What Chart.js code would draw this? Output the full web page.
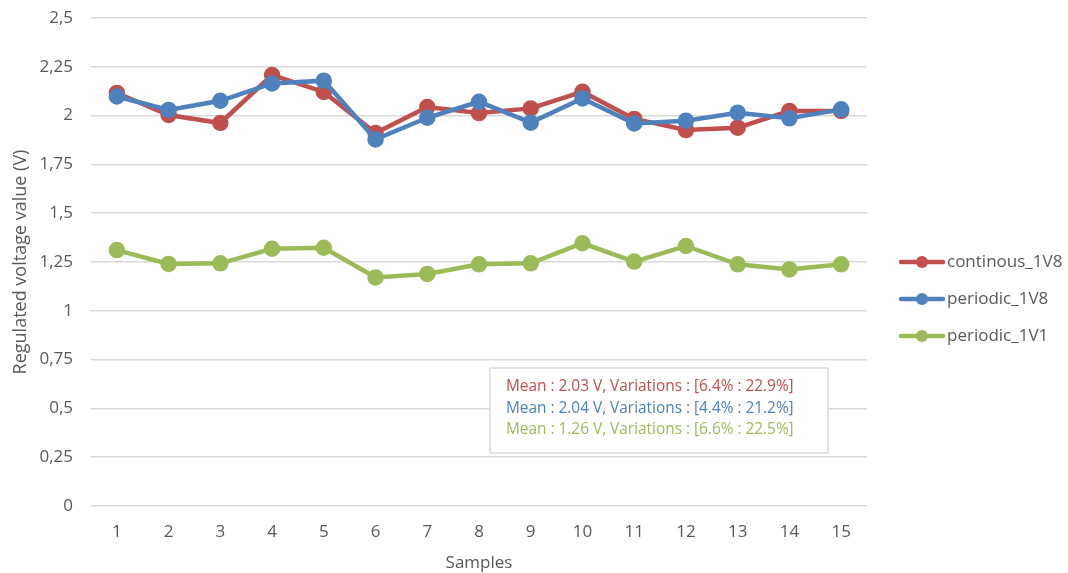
<!DOCTYPE html>
<html>
<head>
<meta charset="utf-8">
<script src="https://cdn.jsdelivr.net/npm/chart.js@4.4.1/dist/chart.umd.min.js"></script>
<style>
  html, body { margin: 0; padding: 0; background: #fff; }
  #wrap { width: 1068px; height: 573px; }
</style>
</head>
<body>
<div id="wrap"><canvas id="chart" width="1068" height="573"></canvas></div>
<script>
const samples = ['1', '2', '3', '4', '5', '6', '7', '8', '9', '10', '11', '12', '13', '14', '15'];

const continous_1V8 = [2.116, 2.003, 1.962, 2.208, 2.121, 1.911, 2.044, 2.013, 2.037, 2.122, 1.983, 1.926, 1.938, 2.024, 2.024];
const periodic_1V8 = [2.098, 2.029, 2.076, 2.165, 2.179, 1.878, 1.989, 2.071, 1.964, 2.088, 1.960, 1.974, 2.015, 1.986, 2.032];
const periodic_1V1 = [1.311, 1.240, 1.243, 1.318, 1.323, 1.171, 1.189, 1.238, 1.243, 1.346, 1.252, 1.332, 1.238, 1.212, 1.238];

const yTicks = [0, 0.25, 0.5, 0.75, 1, 1.25, 1.5, 1.75, 2, 2.25, 2.5];

const statsLines = [
	'Mean : 2.03 V, Variations : [6.4% : 22.9%]',
	'Mean : 2.04 V, Variations : [4.4% : 21.2%]',
	'Mean : 1.26 V, Variations : [6.6% : 22.5%]',
];

const RED = '#C0504D';
const BLUE = '#4F81BD';
const GREEN = '#9BBB59';
const TEXT = '#595959';
const GRID = '#D9D9D9';
const FONT = '"Open Sans", sans-serif';

const makeSet = (label, data, color, order) => ({
	label: label,
	data: data,
	borderColor: color,
	backgroundColor: color,
	pointBackgroundColor: color,
	pointBorderColor: color,
	borderWidth: 4.5,
	pointRadius: 6,
	pointHoverRadius: 6,
	tension: 0,
	order: order,
});

// legend on the right: line + dot marker, then the series name
const sideLegend = {
	id: 'sideLegend',
	afterDraw(chart) {
		const ctx = chart.ctx;
		const rows = [262, 299, 336];
		ctx.save();
		chart.data.datasets.forEach((ds, i) => {
			const y = rows[i];
			ctx.strokeStyle = ds.borderColor;
			ctx.lineWidth = 4.5;
			ctx.lineCap = 'round';
			ctx.beginPath();
			ctx.moveTo(901, y);
			ctx.lineTo(943, y);
			ctx.stroke();
			ctx.fillStyle = ds.borderColor;
			ctx.beginPath();
			ctx.arc(922, y, 6, 0, Math.PI * 2);
			ctx.fill();
			ctx.fillStyle = TEXT;
			ctx.font = '17px ' + FONT;
			ctx.textAlign = 'left';
			ctx.textBaseline = 'middle';
			ctx.fillText(ds.label, 947, y);
		});
		ctx.restore();
	},
};

// boxed summary text inside the plot
const statsBox = {
	id: 'statsBox',
	afterDraw(chart) {
		const ctx = chart.ctx;
		const colors = [RED, BLUE, GREEN];
		ctx.save();
		ctx.fillStyle = '#fff';
		ctx.fillRect(490, 368, 338, 85);
		ctx.strokeStyle = GRID;
		ctx.lineWidth = 1.5;
		ctx.strokeRect(490, 368, 338, 85);
		ctx.font = '15.4px ' + FONT;
		ctx.textAlign = 'left';
		ctx.textBaseline = 'middle';
		statsLines.forEach((line, i) => {
			ctx.fillStyle = colors[i];
			ctx.fillText(line, 506, 387 + i * 21.5);
		});
		ctx.restore();
	},
};

new Chart(document.getElementById('chart'), {
	type: 'line',
	data: {
		labels: samples,
		datasets: [
			makeSet('continous_1V8', continous_1V8, RED, 3),
			makeSet('periodic_1V8', periodic_1V8, BLUE, 2),
			makeSet('periodic_1V1', periodic_1V1, GREEN, 1),
		],
	},
	options: {
		responsive: false,
		animation: false,
		layout: { padding: { top: 18, right: 201, bottom: 0, left: 0 } },
		plugins: {
			legend: { display: false },
			tooltip: { enabled: false },
		},
		scales: {
			x: {
				offset: true,
				grid: { display: false, drawTicks: false },
				border: { display: false },
				ticks: { color: TEXT, font: { family: FONT, size: 17 }, padding: 16, maxRotation: 0 },
				title: { display: true, text: 'Samples', color: TEXT, font: { family: FONT, size: 17 }, padding: { top: 2, bottom: 0 } },
				afterFit: (scale) => {
					scale.height = 67;
					scale.paddingLeft = 0;
					scale.paddingRight = 0;
				},
			},
			y: {
				min: 0,
				max: 2.5,
				afterBuildTicks: (scale) => { scale.ticks = yTicks.map((v) => ({ value: v })); },
				grid: { color: GRID, lineWidth: 1.5, drawTicks: false },
				border: { display: false },
				ticks: {
					color: TEXT,
					font: { family: FONT, size: 17 },
					padding: 18,
					callback: (v) => String(v).replace('.', ','),
				},
				title: { display: true, text: 'Regulated voltage value (V)', color: TEXT, font: { family: FONT, size: 18 }, padding: { top: 10, bottom: 4 } },
				afterFit: (scale) => {
					scale.width = 91;
					scale.paddingTop = 0;
					scale.paddingBottom = 0;
				},
			},
		},
	},
	plugins: [sideLegend, statsBox],
});
</script>
</body>
</html>
